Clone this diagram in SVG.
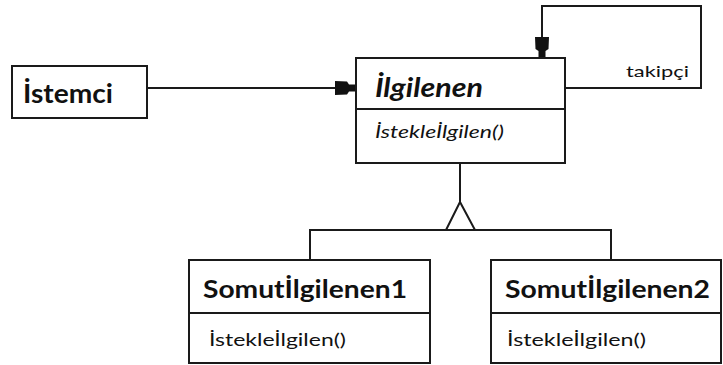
<svg xmlns="http://www.w3.org/2000/svg" width="723" height="365" viewBox="0 0 723 365">
  <style>
    .box { fill: #ffffff; stroke: #1a1a1a; stroke-width: 2; }
    .line { fill: none; stroke: #1a1a1a; stroke-width: 2; }
    .head { fill: #111111; stroke: none; }
    text { font-family: Lato, "Noto Sans", "Liberation Sans", sans-serif; fill: #111111; }
    .name { font-weight: bold; font-size: 27px; }
    .cls { font-weight: bold; font-size: 24px; }
    .op { font-size: 17px; }
    .abstract { font-style: italic; }
    .role { font-size: 16px; }
  </style>
  <defs>
    <!-- filled association arrowhead, tip at origin pointing along +x -->
    <path id="assoc-head" class="head" d="M -21,-7 L -9,-6.5 L -7,-3.5 L 0,-3.5 L 0,3.5 L -7,3.5 L -9,6.5 L -21,7 Z"/>
  </defs>

  <g id="connectors">
    <!-- client to handler -->
    <line class="line" x1="147" y1="88" x2="340" y2="88"/>
    <use href="#assoc-head" transform="translate(356,88)"/>
    <!-- successor self-association -->
    <polyline class="line" points="565,88 701,88 701,6 542,6 542,42"/>
    <use href="#assoc-head" transform="translate(542,58) rotate(90)"/>
    <text class="role" x="626" y="77" textLength="63" lengthAdjust="spacingAndGlyphs">takipçi</text>
    <!-- generalization -->
    <line class="line" x1="460" y1="163" x2="460" y2="202"/>
    <polyline class="line" points="310,260 310,230 611,230 611,260"/>
    <polygon class="line" style="fill:#ffffff" points="460,202 446,230 475,230"/>
  </g>

  <g id="istemci">
    <rect class="box" x="12" y="66" width="135" height="52"/>
    <text class="name" x="23" y="103" textLength="90" lengthAdjust="spacingAndGlyphs">İstemci</text>
  </g>

  <g id="ilgilenen">
    <rect class="box" x="356" y="58" width="209" height="105"/>
    <line class="line" x1="356" y1="109" x2="565" y2="109"/>
    <text class="name abstract" x="375" y="97" textLength="108" lengthAdjust="spacingAndGlyphs">İlgilenen</text>
    <text class="op abstract" x="375" y="138" textLength="129" lengthAdjust="spacingAndGlyphs">İstekleİlgilen()</text>
  </g>

  <g id="somut-ilgilenen-1">
    <rect class="box" x="189" y="260" width="241" height="103"/>
    <line class="line" x1="189" y1="313" x2="430" y2="313"/>
    <text class="cls" x="203" y="298" textLength="204" lengthAdjust="spacingAndGlyphs">Somutİlgilenen1</text>
    <text class="op" x="209" y="346" textLength="137" lengthAdjust="spacingAndGlyphs">İstekleİlgilen()</text>
  </g>

  <g id="somut-ilgilenen-2">
    <rect class="box" x="491" y="260" width="230" height="103"/>
    <line class="line" x1="491" y1="313" x2="721" y2="313"/>
    <text class="cls" x="505" y="298" textLength="205" lengthAdjust="spacingAndGlyphs">Somutİlgilenen2</text>
    <text class="op" x="507" y="346" textLength="139" lengthAdjust="spacingAndGlyphs">İstekleİlgilen()</text>
  </g>
</svg>
